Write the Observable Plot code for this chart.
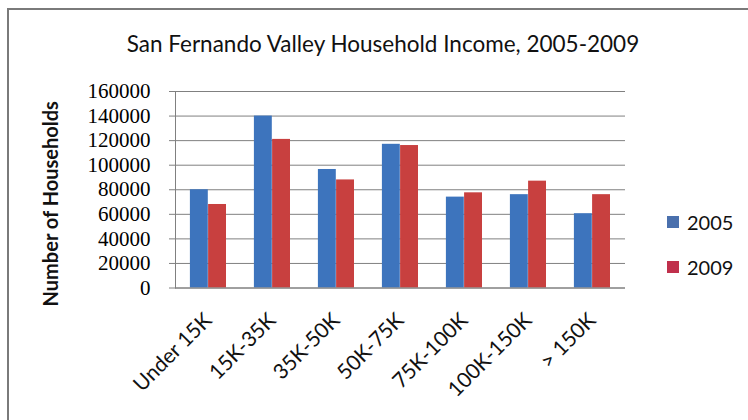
<!DOCTYPE html>
<html>
<head>
<meta charset="utf-8">
<script src="https://cdn.jsdelivr.net/npm/d3@7"></script>
<script src="https://cdn.jsdelivr.net/npm/@observablehq/plot@0.6"></script>
<style>
  html, body { margin: 0; padding: 0; background: #ffffff; }
  #wrap { position: relative; width: 748px; height: 420px; overflow: hidden; background: #fff; }
  #border { position: absolute; left: 7px; top: 8px; width: 760px; height: 430px;
            border-left: 2px solid #7a7a7a; border-top: 2px solid #7a7a7a; box-sizing: border-box; }
  #title { position: absolute; left: 0; width: 766px; top: 30px; text-align: center;
           font-family: Lato, "Liberation Sans", sans-serif; font-size: 22.5px; color: #111; white-space: nowrap; }
  #chart { position: absolute; left: 0; top: 0; }
  #legend { position: absolute; left: 667px; top: 0; font-family: Lato, "Liberation Sans", sans-serif;
            font-size: 20px; color: #111; }
  .item { position: absolute; left: 0; display: flex; align-items: center; white-space: nowrap; }
  .sw { width: 12px; height: 12px; margin-right: 8px; }
</style>
</head>
<body>
<div id="wrap">
  <div id="chart"></div>
  <div id="border"></div>
  <div id="title"></div>
  <div id="legend"></div>
</div>
<script>
const titleText = "San Fernando Valley Household Income, 2005-2009";
const yLabel = "Number of Households";
const categories = ["Under 15K", "15K-35K", "35K-50K", "50K-75K", "75K-100K", "100K-150K", "> 150K"];
const series = ["2005", "2009"];
const values2005 = [80000, 140000, 96500, 117000, 74000, 76000, 60500];
const values2009 = [68000, 121000, 88000, 116000, 77500, 87000, 76000];
const yTicks = [0, 20000, 40000, 60000, 80000, 100000, 120000, 140000, 160000];

const barColors = ["#3d74bd", "#c8403f"];
const legendColors = ["#4a70ad", "#c0304c"];

const rows2005 = categories.map((c, i) => ({category: c, value: values2005[i]}));
const rows2009 = categories.map((c, i) => ({category: c, value: values2009[i]}));

document.getElementById("title").textContent = titleText;

const chart = Plot.plot({
  width: 748,
  height: 420,
  marginLeft: 175,
  marginRight: 123,
  marginTop: 91,
  marginBottom: 132.5,
  x: {domain: categories, padding: 0, axis: null},
  y: {domain: [0, 160000], axis: null},
  marks: [
    Plot.gridY(yTicks, {stroke: "#808080", strokeOpacity: 1, strokeWidth: 1}),
    Plot.barY(rows2005, {x: "category", y: "value", fill: barColors[0], insetLeft: 13.9, insetRight: 32.2}),
    Plot.barY(rows2009, {x: "category", y: "value", fill: barColors[1], insetLeft: 32.1, insetRight: 14}),
    Plot.ruleY([0], {stroke: "#808080"}),
    Plot.frame({anchor: "left", stroke: "#808080"}),
    Plot.axisY(yTicks, {
      tickSize: 6, tickPadding: 19, tickFormat: d => String(d),
      stroke: "#808080", fill: "#000", fontSize: 21, fontFamily: "'Liberation Serif', serif",
      label: null
    }),
    Plot.text([yLabel], {
      text: d => d, frameAnchor: "left", textAnchor: "middle", rotate: -90, dx: -124, dy: 14,
      fontSize: 20, fontWeight: "bold", fontFamily: "Lato, 'Liberation Sans', sans-serif", fill: "#111"
    }),
    Plot.text(categories, {
      x: d => d, text: d => d, frameAnchor: "bottom", rotate: -45,
      textAnchor: "end", lineAnchor: "top", dx: -6, dy: 23,
      fontSize: 21, fontFamily: "Lato, 'Liberation Sans', sans-serif", fill: "#111"
    })
  ]
});
document.getElementById("chart").appendChild(chart);

const legend = document.getElementById("legend");
const legendTops = [222, 267];
series.forEach((s, i) => {
  const item = document.createElement("div");
  item.className = "item";
  item.style.top = (legendTops[i] - 13) + "px";
  item.style.height = "26px";
  const sw = document.createElement("span");
  sw.className = "sw";
  sw.style.background = legendColors[i];
  const t = document.createElement("span");
  t.textContent = s;
  item.appendChild(sw);
  item.appendChild(t);
  legend.appendChild(item);
});
</script>
</body>
</html>
